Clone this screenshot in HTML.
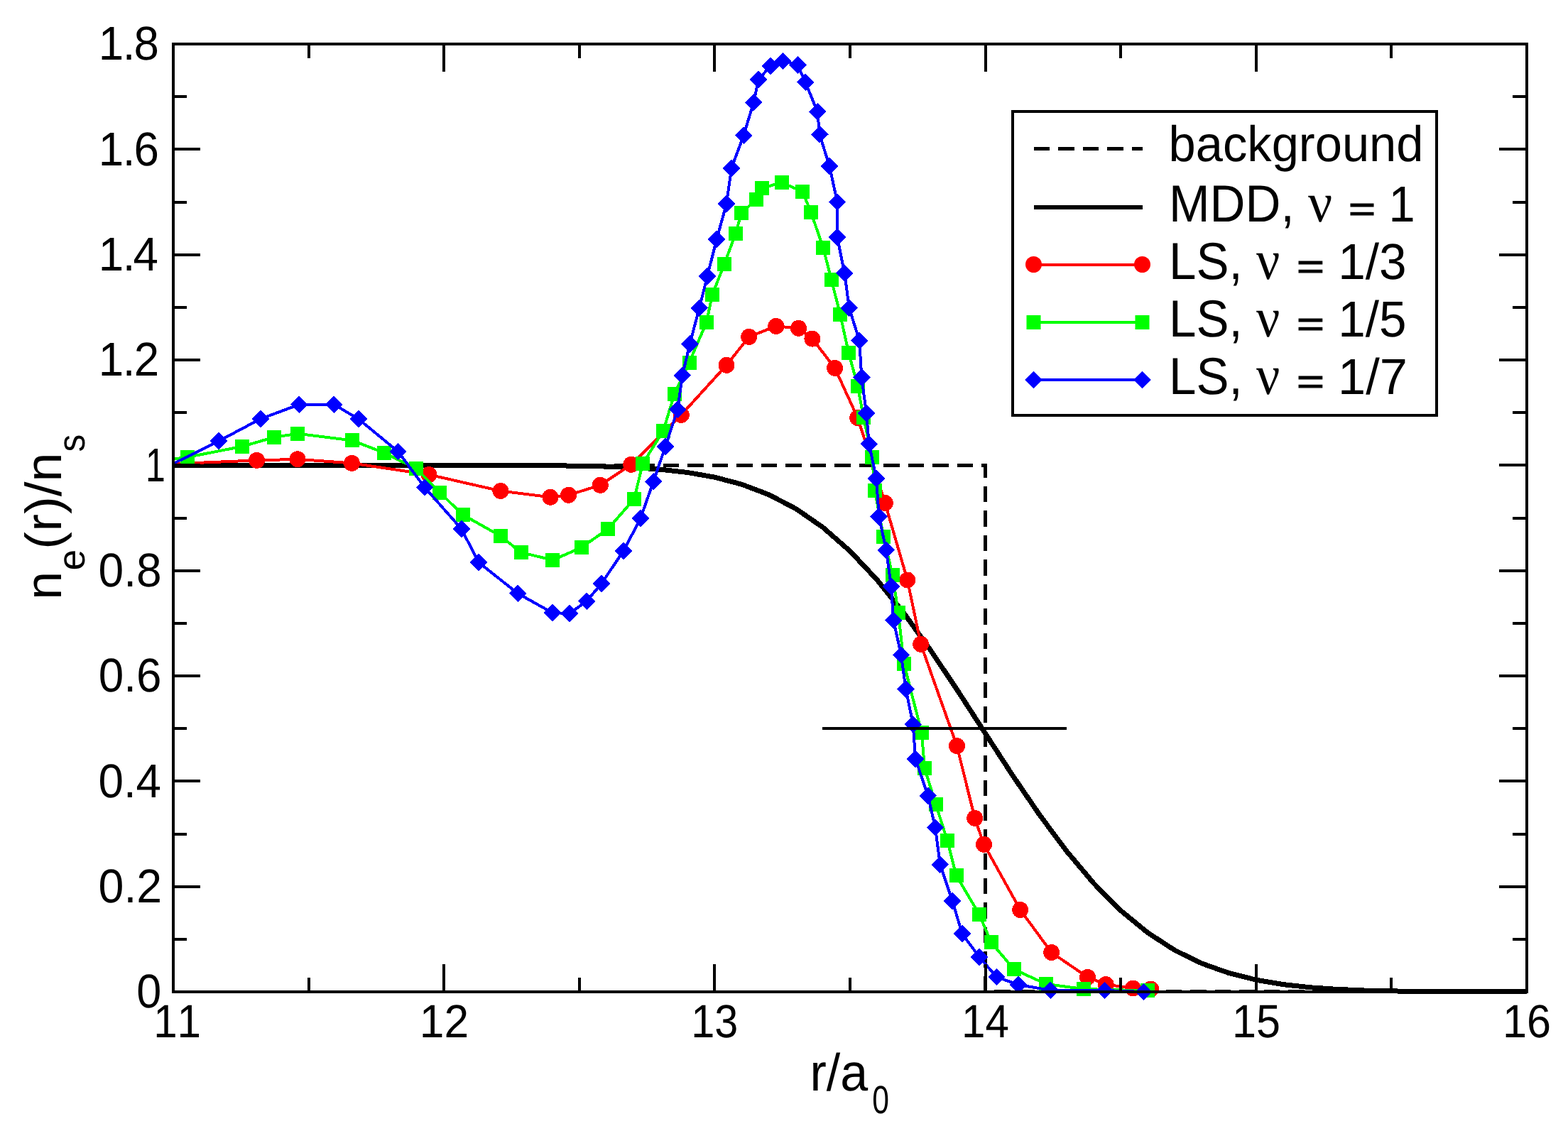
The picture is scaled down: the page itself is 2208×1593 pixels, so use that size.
<!DOCTYPE html>
<html lang="en"><head><meta charset="utf-8"><title>Edge density profile</title>
<style>html,body{margin:0;padding:0;background:#fff}body{width:2208px;height:1593px;overflow:hidden}svg{display:block}text{font-family:"Liberation Sans",sans-serif;fill:#000;font-kerning:none;text-rendering:geometricPrecision}.nu{font-family:"Liberation Serif",serif}</style></head><body>
<svg width="2208" height="1593" viewBox="0 0 2208 1593">
<rect width="2208" height="1593" fill="#fff"/>
<g fill="none" stroke-linejoin="miter" shape-rendering="crispEdges">
<polyline points="244,655.5 1387.5,655.5 1387.5,1396.5 2150,1396.5" stroke="#000" stroke-width="5" stroke-dasharray="22.5 12" stroke-dashoffset="0.4"/>
<polyline points="244,655.3 282.1,655.3 320.2,655.3 358.4,655.3 396.5,655.3 434.6,655.3 472.7,655.3 510.8,655.3 549,655.3 587.1,655.3 625.2,655.3 663.3,655.4 701.4,655.4 739.6,655.5 777.7,655.8 815.8,656.2 853.9,657.1 892,658.6 930.2,661.2 968.3,665.5 1006.4,672.2 1044.5,682.2 1082.6,696.7 1120.8,716.6 1158.9,742.9 1197,776.2 1235.1,816.8 1273.2,864.1 1311.4,917.2 1349.5,974.2 1387.6,1033.2 1425.7,1091.8 1463.8,1147.6 1502,1198.9 1540.1,1244.1 1578.2,1282.5 1616.3,1313.8 1654.4,1338.5 1692.6,1357.1 1730.7,1370.6 1768.8,1380.2 1806.9,1386.6 1845,1390.8 1883.2,1393.4 1921.3,1395 1959.4,1395.9 1997.5,1396.4 2035.6,1396.7 2073.8,1396.9 2111.9,1396.9 2150,1397" stroke="#000" stroke-width="7"/>
</g>
<g shape-rendering="crispEdges">
<polyline points="244,653.3 361.6,648.4 419,646.8 495.4,652.4 604,668.5 704.9,691.5 775,700.2 800.6,697.3 845.3,683.3 888.8,654.3 959.3,584.4 1023,514.3 1054.7,474.4 1092.8,459.4 1124.5,462.3 1143.9,477.1 1175.6,518.4 1207.7,588.5 1246.3,708.5 1277.8,817 1296.7,907.4 1347.5,1050.7 1372.7,1152.4 1385.5,1189.3 1436.7,1281.5 1480.7,1341.6 1531.5,1376.4 1557.2,1386.5 1595.3,1392 1620.7,1393" fill="none" stroke="#f00" stroke-width="4"/>
</g><g fill="#f00" shape-rendering="crispEdges">
<circle cx="361.6" cy="648.4" r="11.5"/>
<circle cx="419" cy="646.8" r="11.5"/>
<circle cx="495.4" cy="652.4" r="11.5"/>
<circle cx="604" cy="668.5" r="11.5"/>
<circle cx="704.9" cy="691.5" r="11.5"/>
<circle cx="775" cy="700.2" r="11.5"/>
<circle cx="800.6" cy="697.3" r="11.5"/>
<circle cx="845.3" cy="683.3" r="11.5"/>
<circle cx="888.8" cy="654.3" r="11.5"/>
<circle cx="959.3" cy="584.4" r="11.5"/>
<circle cx="1023" cy="514.3" r="11.5"/>
<circle cx="1054.7" cy="474.4" r="11.5"/>
<circle cx="1092.8" cy="459.4" r="11.5"/>
<circle cx="1124.5" cy="462.3" r="11.5"/>
<circle cx="1143.9" cy="477.1" r="11.5"/>
<circle cx="1175.6" cy="518.4" r="11.5"/>
<circle cx="1207.7" cy="588.5" r="11.5"/>
<circle cx="1246.3" cy="708.5" r="11.5"/>
<circle cx="1277.8" cy="817" r="11.5"/>
<circle cx="1296.7" cy="907.4" r="11.5"/>
<circle cx="1347.5" cy="1050.7" r="11.5"/>
<circle cx="1372.7" cy="1152.4" r="11.5"/>
<circle cx="1385.5" cy="1189.3" r="11.5"/>
<circle cx="1436.7" cy="1281.5" r="11.5"/>
<circle cx="1480.7" cy="1341.6" r="11.5"/>
<circle cx="1531.5" cy="1376.4" r="11.5"/>
<circle cx="1557.2" cy="1386.5" r="11.5"/>
<circle cx="1595.3" cy="1392" r="11.5"/>
<circle cx="1620.7" cy="1393" r="11.5"/>
</g>
<g shape-rendering="crispEdges">
<polyline points="244,646.5 263.5,644 340.9,628.9 386,615.8 419,610.8 495.9,620.4 541.1,637.8 586.1,659.9 619.3,693.8 652,725.2 705,755 733.5,778 778.4,788.9 819,771 856,745 893,702.9 905.1,652.9 934,607 949.7,555 970.5,510.7 995,453.7 1002.9,415.4 1020.1,371.8 1035.9,328.8 1044,300 1065,281 1073,265 1101,257 1130.1,270 1142,299 1159.1,348.8 1170.8,394.1 1183.2,443.3 1195.1,497.1 1207.8,543.8 1216,587.8 1228,643.8 1232,691 1244,756.1 1257,810.4 1265,863.2 1273,935 1297.9,1032 1302,1082 1317.9,1133.4 1334,1183.9 1346.5,1233 1379.1,1288 1395.6,1327.4 1428,1365.4 1473,1386 1526,1393 1615.9,1395.4" fill="none" stroke="#0f0" stroke-width="4"/>
</g><g fill="#0f0" shape-rendering="crispEdges">
<rect x="253.5" y="634" width="20" height="20"/>
<rect x="330.9" y="618.9" width="20" height="20"/>
<rect x="376" y="605.8" width="20" height="20"/>
<rect x="409" y="600.8" width="20" height="20"/>
<rect x="485.9" y="610.4" width="20" height="20"/>
<rect x="531.1" y="627.8" width="20" height="20"/>
<rect x="576.1" y="649.9" width="20" height="20"/>
<rect x="609.3" y="683.8" width="20" height="20"/>
<rect x="642" y="715.2" width="20" height="20"/>
<rect x="695" y="745" width="20" height="20"/>
<rect x="723.5" y="768" width="20" height="20"/>
<rect x="768.4" y="778.9" width="20" height="20"/>
<rect x="809" y="761" width="20" height="20"/>
<rect x="846" y="735" width="20" height="20"/>
<rect x="883" y="692.9" width="20" height="20"/>
<rect x="895.1" y="642.9" width="20" height="20"/>
<rect x="924" y="597" width="20" height="20"/>
<rect x="939.7" y="545" width="20" height="20"/>
<rect x="960.5" y="500.7" width="20" height="20"/>
<rect x="985" y="443.7" width="20" height="20"/>
<rect x="992.9" y="405.4" width="20" height="20"/>
<rect x="1010.1" y="361.8" width="20" height="20"/>
<rect x="1025.9" y="318.8" width="20" height="20"/>
<rect x="1034" y="290" width="20" height="20"/>
<rect x="1055" y="271" width="20" height="20"/>
<rect x="1063" y="255" width="20" height="20"/>
<rect x="1091" y="247" width="20" height="20"/>
<rect x="1120.1" y="260" width="20" height="20"/>
<rect x="1132" y="289" width="20" height="20"/>
<rect x="1149.1" y="338.8" width="20" height="20"/>
<rect x="1160.8" y="384.1" width="20" height="20"/>
<rect x="1173.2" y="433.3" width="20" height="20"/>
<rect x="1185.1" y="487.1" width="20" height="20"/>
<rect x="1197.8" y="533.8" width="20" height="20"/>
<rect x="1206" y="577.8" width="20" height="20"/>
<rect x="1218" y="633.8" width="20" height="20"/>
<rect x="1222" y="681" width="20" height="20"/>
<rect x="1234" y="746.1" width="20" height="20"/>
<rect x="1247" y="800.4" width="20" height="20"/>
<rect x="1255" y="853.2" width="20" height="20"/>
<rect x="1263" y="925" width="20" height="20"/>
<rect x="1287.9" y="1022" width="20" height="20"/>
<rect x="1292" y="1072" width="20" height="20"/>
<rect x="1307.9" y="1123.4" width="20" height="20"/>
<rect x="1324" y="1173.9" width="20" height="20"/>
<rect x="1336.5" y="1223" width="20" height="20"/>
<rect x="1369.1" y="1278" width="20" height="20"/>
<rect x="1385.6" y="1317.4" width="20" height="20"/>
<rect x="1418" y="1355.4" width="20" height="20"/>
<rect x="1463" y="1376" width="20" height="20"/>
<rect x="1516" y="1383" width="20" height="20"/>
<rect x="1605.9" y="1385.4" width="20" height="20"/>
</g>
<g shape-rendering="crispEdges">
<polyline points="244,653 308,621.2 366.8,590.1 421.1,569.8 470.4,569.8 504.8,590.1 560.5,636 598,686.4 649.8,745 673.9,792 729.2,835.9 777.9,863.1 802,864 826.1,846.8 846.9,822 878,776 902,730 920.1,678.3 936.9,629.2 954.2,576.8 960.9,528.8 971.4,484.4 984.8,433.6 996,389 1009.2,337 1023,287 1030,237 1047.1,190.8 1061.2,144.4 1068.1,112.2 1084.8,93 1102.5,85.9 1123.4,91.7 1134.1,115.8 1151.1,157.3 1154.2,189.5 1168,234 1179,284.4 1179,334.3 1189.3,385 1195.8,433.9 1210.2,479.9 1213.3,531.5 1220,582 1223.8,625.4 1234,673.9 1237.7,727.6 1247.9,774.7 1254.9,826.2 1258.2,873.9 1269,922.5 1275.5,970.6 1285.7,1020.2 1289.1,1069.2 1306.7,1120.7 1317,1165.7 1323.8,1217.6 1341.1,1268.8 1354.8,1315 1379.1,1348.2 1403.4,1376.1 1434,1387 1479.4,1394.8 1555.4,1395 1610.5,1397" fill="none" stroke="#00f" stroke-width="4"/>
</g><g fill="#00f" shape-rendering="crispEdges">
<path d="M308 608.9l12.3 12.3l-12.3 12.3l-12.3 -12.3z"/>
<path d="M366.8 577.8l12.3 12.3l-12.3 12.3l-12.3 -12.3z"/>
<path d="M421.1 557.5l12.3 12.3l-12.3 12.3l-12.3 -12.3z"/>
<path d="M470.4 557.5l12.3 12.3l-12.3 12.3l-12.3 -12.3z"/>
<path d="M504.8 577.8l12.3 12.3l-12.3 12.3l-12.3 -12.3z"/>
<path d="M560.5 623.7l12.3 12.3l-12.3 12.3l-12.3 -12.3z"/>
<path d="M598 674.1l12.3 12.3l-12.3 12.3l-12.3 -12.3z"/>
<path d="M649.8 732.7l12.3 12.3l-12.3 12.3l-12.3 -12.3z"/>
<path d="M673.9 779.7l12.3 12.3l-12.3 12.3l-12.3 -12.3z"/>
<path d="M729.2 823.6l12.3 12.3l-12.3 12.3l-12.3 -12.3z"/>
<path d="M777.9 850.8l12.3 12.3l-12.3 12.3l-12.3 -12.3z"/>
<path d="M802 851.7l12.3 12.3l-12.3 12.3l-12.3 -12.3z"/>
<path d="M826.1 834.5l12.3 12.3l-12.3 12.3l-12.3 -12.3z"/>
<path d="M846.9 809.7l12.3 12.3l-12.3 12.3l-12.3 -12.3z"/>
<path d="M878 763.7l12.3 12.3l-12.3 12.3l-12.3 -12.3z"/>
<path d="M902 717.7l12.3 12.3l-12.3 12.3l-12.3 -12.3z"/>
<path d="M920.1 666l12.3 12.3l-12.3 12.3l-12.3 -12.3z"/>
<path d="M936.9 616.9l12.3 12.3l-12.3 12.3l-12.3 -12.3z"/>
<path d="M954.2 564.5l12.3 12.3l-12.3 12.3l-12.3 -12.3z"/>
<path d="M960.9 516.5l12.3 12.3l-12.3 12.3l-12.3 -12.3z"/>
<path d="M971.4 472.1l12.3 12.3l-12.3 12.3l-12.3 -12.3z"/>
<path d="M984.8 421.3l12.3 12.3l-12.3 12.3l-12.3 -12.3z"/>
<path d="M996 376.7l12.3 12.3l-12.3 12.3l-12.3 -12.3z"/>
<path d="M1009.2 324.7l12.3 12.3l-12.3 12.3l-12.3 -12.3z"/>
<path d="M1023 274.7l12.3 12.3l-12.3 12.3l-12.3 -12.3z"/>
<path d="M1030 224.7l12.3 12.3l-12.3 12.3l-12.3 -12.3z"/>
<path d="M1047.1 178.5l12.3 12.3l-12.3 12.3l-12.3 -12.3z"/>
<path d="M1061.2 132.1l12.3 12.3l-12.3 12.3l-12.3 -12.3z"/>
<path d="M1068.1 99.9l12.3 12.3l-12.3 12.3l-12.3 -12.3z"/>
<path d="M1084.8 80.7l12.3 12.3l-12.3 12.3l-12.3 -12.3z"/>
<path d="M1102.5 73.6l12.3 12.3l-12.3 12.3l-12.3 -12.3z"/>
<path d="M1123.4 79.4l12.3 12.3l-12.3 12.3l-12.3 -12.3z"/>
<path d="M1134.1 103.5l12.3 12.3l-12.3 12.3l-12.3 -12.3z"/>
<path d="M1151.1 145l12.3 12.3l-12.3 12.3l-12.3 -12.3z"/>
<path d="M1154.2 177.2l12.3 12.3l-12.3 12.3l-12.3 -12.3z"/>
<path d="M1168 221.7l12.3 12.3l-12.3 12.3l-12.3 -12.3z"/>
<path d="M1179 272.1l12.3 12.3l-12.3 12.3l-12.3 -12.3z"/>
<path d="M1179 322l12.3 12.3l-12.3 12.3l-12.3 -12.3z"/>
<path d="M1189.3 372.7l12.3 12.3l-12.3 12.3l-12.3 -12.3z"/>
<path d="M1195.8 421.6l12.3 12.3l-12.3 12.3l-12.3 -12.3z"/>
<path d="M1210.2 467.6l12.3 12.3l-12.3 12.3l-12.3 -12.3z"/>
<path d="M1213.3 519.2l12.3 12.3l-12.3 12.3l-12.3 -12.3z"/>
<path d="M1220 569.7l12.3 12.3l-12.3 12.3l-12.3 -12.3z"/>
<path d="M1223.8 613.1l12.3 12.3l-12.3 12.3l-12.3 -12.3z"/>
<path d="M1234 661.6l12.3 12.3l-12.3 12.3l-12.3 -12.3z"/>
<path d="M1237.7 715.3l12.3 12.3l-12.3 12.3l-12.3 -12.3z"/>
<path d="M1247.9 762.4l12.3 12.3l-12.3 12.3l-12.3 -12.3z"/>
<path d="M1254.9 813.9l12.3 12.3l-12.3 12.3l-12.3 -12.3z"/>
<path d="M1258.2 861.6l12.3 12.3l-12.3 12.3l-12.3 -12.3z"/>
<path d="M1269 910.2l12.3 12.3l-12.3 12.3l-12.3 -12.3z"/>
<path d="M1275.5 958.3l12.3 12.3l-12.3 12.3l-12.3 -12.3z"/>
<path d="M1285.7 1007.9l12.3 12.3l-12.3 12.3l-12.3 -12.3z"/>
<path d="M1289.1 1056.9l12.3 12.3l-12.3 12.3l-12.3 -12.3z"/>
<path d="M1306.7 1108.4l12.3 12.3l-12.3 12.3l-12.3 -12.3z"/>
<path d="M1317 1153.4l12.3 12.3l-12.3 12.3l-12.3 -12.3z"/>
<path d="M1323.8 1205.3l12.3 12.3l-12.3 12.3l-12.3 -12.3z"/>
<path d="M1341.1 1256.5l12.3 12.3l-12.3 12.3l-12.3 -12.3z"/>
<path d="M1354.8 1302.7l12.3 12.3l-12.3 12.3l-12.3 -12.3z"/>
<path d="M1379.1 1335.9l12.3 12.3l-12.3 12.3l-12.3 -12.3z"/>
<path d="M1403.4 1363.8l12.3 12.3l-12.3 12.3l-12.3 -12.3z"/>
<path d="M1434 1374.7l12.3 12.3l-12.3 12.3l-12.3 -12.3z"/>
<path d="M1479.4 1382.5l12.3 12.3l-12.3 12.3l-12.3 -12.3z"/>
<path d="M1555.4 1382.7l12.3 12.3l-12.3 12.3l-12.3 -12.3z"/>
<path d="M1610.5 1384.7l12.3 12.3l-12.3 12.3l-12.3 -12.3z"/>
</g>
<g stroke="#000" stroke-width="4" fill="none" shape-rendering="crispEdges">
<path d="M244 1397v-39M244 62v39M434.6 1397v-20M434.6 62v20M625.2 1397v-39M625.2 62v39M815.8 1397v-20M815.8 62v20M1006.4 1397v-39M1006.4 62v39M1197 1397v-20M1197 62v20M1387.6 1397v-39M1387.6 62v39M1578.2 1397v-20M1578.2 62v20M1768.8 1397v-39M1768.8 62v39M1959.4 1397v-20M1959.4 62v20M2150 1397v-39M2150 62v39M244 1397h38M2150 1397h-39M244 1322.8h19M2150 1322.8h-20M244 1248.7h38M2150 1248.7h-39M244 1174.5h19M2150 1174.5h-20M244 1100.3h38M2150 1100.3h-39M244 1026.2h19M2150 1026.2h-20M244 952h38M2150 952h-39M244 877.8h19M2150 877.8h-20M244 803.7h38M2150 803.7h-39M244 729.5h19M2150 729.5h-20M244 655.3h38M2150 655.3h-39M244 581.2h19M2150 581.2h-20M244 507h38M2150 507h-39M244 432.8h19M2150 432.8h-20M244 358.7h38M2150 358.7h-39M244 284.5h19M2150 284.5h-20M244 210.3h38M2150 210.3h-39M244 136.2h19M2150 136.2h-20M244 62h38M2150 62h-39"/>
<rect x="244" y="62" width="1906" height="1335"/>
</g>
<g>
<text transform="translate(216.13,1461) scale(0.6011,0.6560)" font-size="100">11</text>
<text transform="translate(590.72,1461) scale(0.6232,0.6560)" font-size="100">12</text>
<text transform="translate(973.19,1461) scale(0.5944,0.6560)" font-size="100">13</text>
<text transform="translate(1354.12,1461) scale(0.6018,0.6560)" font-size="100">14</text>
<text transform="translate(1734.93,1461) scale(0.6117,0.6560)" font-size="100">15</text>
<text transform="translate(2116.04,1461) scale(0.6109,0.6560)" font-size="100">16</text>
<text transform="translate(192.34,1419.2) scale(0.6297,0.6680)" font-size="100">0</text>
<text transform="translate(138.58,1270.87) scale(0.6442,0.6680)" font-size="100">0.2</text>
<text transform="translate(138.41,1122.53) scale(0.6378,0.6680)" font-size="100">0.4</text>
<text transform="translate(138.81,974.2) scale(0.6373,0.6680)" font-size="100">0.6</text>
<text transform="translate(138.6,825.87) scale(0.6409,0.6680)" font-size="100">0.8</text>
<text transform="translate(205.1,677.53) scale(0.5000,0.6680)" font-size="100">1</text>
<text transform="translate(0,529.2) scale(0.6370,0.6680)" font-size="100" x="217.9 271.2 296.5">1.2</text>
<text transform="translate(0,380.9) scale(0.6370,0.6680)" font-size="100" x="217.9 271.2 294.4">1.4</text>
<text transform="translate(0,232.5) scale(0.6370,0.6680)" font-size="100" x="217.9 271.2 295.9">1.6</text>
<text transform="translate(0,84.2) scale(0.6370,0.6680)" font-size="100" x="217.9 271.2 295.8">1.8</text>
</g>
<text y="1536"><tspan x="1140.45" font-size="74" textLength="81.75" lengthAdjust="spacingAndGlyphs">r/a</tspan><tspan x="1228.13" dy="31.5" font-size="55.51" textLength="23.73" lengthAdjust="spacingAndGlyphs">0</tspan></text>
<text transform="translate(86.4,840) rotate(-90)"><tspan x="-4.77" font-size="71.7" textLength="39.93" lengthAdjust="spacingAndGlyphs">n</tspan><tspan x="36.63" dy="32.2" font-size="53.5" textLength="29.75" lengthAdjust="spacingAndGlyphs">e</tspan><tspan x="66.39" dy="-32.2" font-size="71.7" textLength="136.34" lengthAdjust="spacingAndGlyphs">(r)/n</tspan><tspan x="203.51" dy="32.2" font-size="53.5" textLength="24.88" lengthAdjust="spacingAndGlyphs">s</tspan></text>
<g shape-rendering="crispEdges"><rect x="1426" y="157" width="597" height="428" fill="#fff" stroke="#000" stroke-width="4"/>
<path d="M1455.5 209.5H1608.5" stroke="#000" stroke-width="5" stroke-dasharray="22.5 12" fill="none"/>
<path d="M1455.5 292H1608.5" stroke="#000" stroke-width="6" fill="none"/>
<path d="M1455.5 372.5H1608.5" stroke="#f00" stroke-width="4" fill="none"/>
<path d="M1455.5 454H1608.5" stroke="#0f0" stroke-width="4" fill="none"/>
<path d="M1455.5 535H1608.5" stroke="#00f" stroke-width="4" fill="none"/>
</g>
<circle cx="1455.5" cy="372.5" r="11.5" fill="#f00"/>
<rect x="1445.5" y="444" width="20" height="20" fill="#0f0"/>
<path d="M1455.5 522.7l12.3 12.3l-12.3 12.3l-12.3 -12.3z" fill="#00f"/>
<circle cx="1608.5" cy="372.5" r="11.5" fill="#f00"/>
<rect x="1598.5" y="444" width="20" height="20" fill="#0f0"/>
<path d="M1608.5 522.7l12.3 12.3l-12.3 12.3l-12.3 -12.3z" fill="#00f"/>
<text y="227"><tspan x="1645.57" font-size="70.6" textLength="358.95" lengthAdjust="spacingAndGlyphs">background</tspan></text>
<text y="312"><tspan x="1646.03" font-size="73.5" textLength="176.58" lengthAdjust="spacingAndGlyphs">MDD,</tspan> <tspan class="nu" x="1842.02" font-size="78.89" textLength="34.26" lengthAdjust="spacingAndGlyphs">ν</tspan> <tspan stroke="#000" stroke-width="1.4" x="1899.26" dy="-1" font-size="48.5" textLength="37.5" lengthAdjust="spacingAndGlyphs">=</tspan> <tspan x="1955.59" dy="1" font-size="71.2" textLength="37.15" lengthAdjust="spacingAndGlyphs">1</tspan></text>
<text y="393.1"><tspan x="1646.03" font-size="73.5" textLength="103.67" lengthAdjust="spacingAndGlyphs">LS,</tspan> <tspan class="nu" x="1768.92" font-size="78.89" textLength="33.41" lengthAdjust="spacingAndGlyphs">ν</tspan> <tspan stroke="#000" stroke-width="1.4" x="1826.29" dy="-1" font-size="48.5" textLength="38.34" lengthAdjust="spacingAndGlyphs">=</tspan> <tspan x="1884.14" dy="1" font-size="71.2" textLength="96.41" lengthAdjust="spacingAndGlyphs">1/3</tspan></text>
<text y="473.9"><tspan x="1646.03" font-size="73.5" textLength="103.67" lengthAdjust="spacingAndGlyphs">LS,</tspan> <tspan class="nu" x="1768.92" font-size="78.89" textLength="33.41" lengthAdjust="spacingAndGlyphs">ν</tspan> <tspan stroke="#000" stroke-width="1.4" x="1826.29" dy="-1" font-size="48.5" textLength="38.34" lengthAdjust="spacingAndGlyphs">=</tspan> <tspan x="1884.15" dy="1" font-size="71.2" textLength="96.25" lengthAdjust="spacingAndGlyphs">1/5</tspan></text>
<text y="555.1"><tspan x="1646.03" font-size="73.5" textLength="103.67" lengthAdjust="spacingAndGlyphs">LS,</tspan> <tspan class="nu" x="1768.92" font-size="78.89" textLength="33.41" lengthAdjust="spacingAndGlyphs">ν</tspan> <tspan stroke="#000" stroke-width="1.4" x="1826.29" dy="-1" font-size="48.5" textLength="38.34" lengthAdjust="spacingAndGlyphs">=</tspan> <tspan x="1884.05" dy="1" font-size="71.2" textLength="97.79" lengthAdjust="spacingAndGlyphs">1/7</tspan></text>
<path d="M1157.8 1026.2H1502" stroke="#000" stroke-width="4" fill="none" shape-rendering="crispEdges"/>
</svg></body></html>
